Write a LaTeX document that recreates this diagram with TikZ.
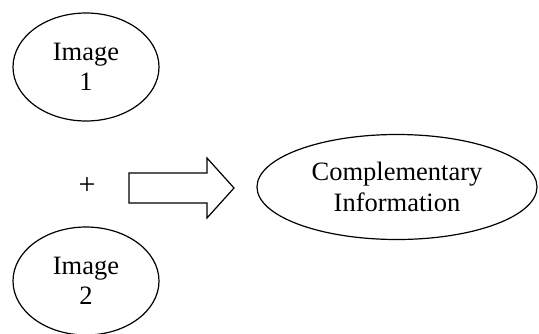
\documentclass[tikz,border=0pt]{standalone}
\usepackage{fontspec}
\setmainfont{Liberation Serif}
\usetikzlibrary{shapes.geometric}
\begin{document}
\begin{tikzpicture}[x=1pt,y=-1pt,
  oval/.style={draw, line width=1.2pt, ellipse, inner sep=0pt, align=center,
    font=\fontsize{26.5}{30.5}\selectfont},
  fatarrow/.style={draw, line width=1.2pt, line join=miter}]
\useasboundingbox (0,0) rectangle (539,333);
\node[oval, minimum width=146pt, minimum height=108pt] (img1) at (86,67) {Image\\1};
\node[oval, minimum width=146pt, minimum height=108pt] (img2) at (86,281) {Image\\2};
\node[font=\fontsize{30}{30}\selectfont, inner sep=0pt] (plus) at (87,186) {+};
\node[oval, minimum width=280pt, minimum height=105pt] (info) at (397,187) {Complementary\\Information};
\draw[fatarrow] (129,173) -- (207,173) -- (207,158) -- (234,188) -- (207,218) -- (207,203) -- (129,203) -- cycle;
\end{tikzpicture}
\end{document}
